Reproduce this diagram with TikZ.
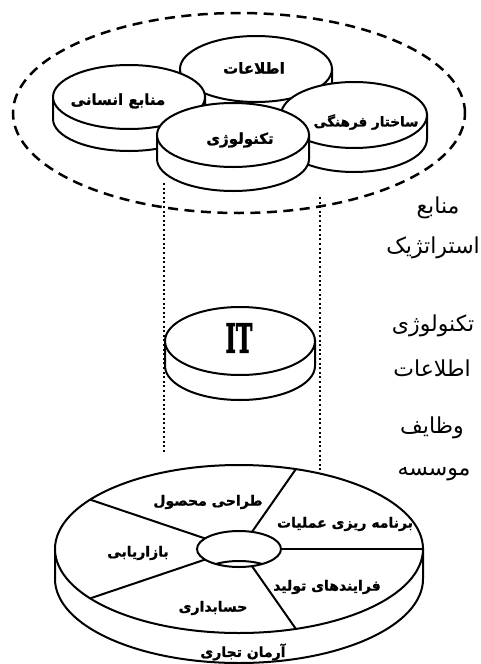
\documentclass[tikz,border=0pt]{standalone}
\usepackage{fontspec}
\setmainfont{DejaVu Sans}
\newfontfamily\fa[Script=Arabic]{DejaVu Sans}
\newfontfamily\fab[Script=Arabic, BoldFeatures={FakeBold=1.2}]{DejaVu Sans}
\newfontfamily\itfont[BoldFeatures={FakeBold=2.5}]{DejaVu Serif}
\usetikzlibrary{calc}
\TeXXeTstate=1

\tikzset{
  outline/.style={draw=black, line width=2pt, fill=white},
  edge/.style={draw=black, line width=2pt},
  ring/.style={draw=black, line width=2.5pt, dash pattern=on 10pt off 6.5pt},
  dotline/.style={draw=black, line width=2.6pt, dash pattern=on 2pt off 2.6pt},
  disklabel/.style={font=\fab\bfseries\fontsize{14}{16}\selectfont, inner sep=0pt},
  toplabel/.style={font=\fab\bfseries\fontsize{15}{17}\selectfont, inner sep=0pt},
  sidelabel/.style={font=\fa\fontsize{22}{26}\selectfont, inner sep=0pt},
}

% a flat cylinder: centre x, centre y, x radius, y radius, thickness
\newcommand\plate[5]{%
  \path[outline] (#1-#3,#2) -- (#1-#3,#2+#5)
    arc[start angle=180, end angle=360, x radius=#3pt, y radius=#4pt]
    -- (#1+#3,#2) -- cycle;
  \path[outline] (#1,#2) ellipse[x radius=#3pt, y radius=#4pt];
}

\begin{document}
\begin{tikzpicture}[x=1pt, y=-1pt]
  \useasboundingbox (0,0) rectangle (481,664);
  \fill[white] (0,0) rectangle (481,664);

  % strategic resources group
  \draw[ring] (239,113) ellipse[x radius=226pt, y radius=100pt];

  \plate{256}{69}{76}{33}{22}
  \plate{129}{97}{76}{32}{22}
  \plate{354}{115}{73}{33}{24}
  \plate{233}{135}{76}{32}{24}

  \node[toplabel] (info)    at (254,68)  {\beginR اطلاعات\endR};
  \node[toplabel] (human)   at (118,101) {\beginR منابع انسانی\endR};
  \node[toplabel, font=\fab\bfseries\fontsize{13.5}{16}\selectfont] (culture) at (366,122) {\beginR ساختار فرهنگی\endR};
  \node[toplabel] (tech)    at (240,140) {\beginR تکنولوژی\endR};

  % vertical guides
  \coordinate (gl1) at (164,183);
  \coordinate (gl2) at (164,452);
  \coordinate (gr1) at (320,197);
  \coordinate (gr2) at (320,472);

  % information technology layer
  \plate{240}{341}{75}{34}{25}
  \node[inner sep=0pt, xscale=0.55, font=\itfont\bfseries\fontsize{40}{40}\selectfont] (it) at (239,338) {IT};

  \draw[dotline] (gl1) -- (gl2);
  \draw[dotline] (gr1) -- (gr2);

  % business functions wheel
  \coordinate (rim) at (239,549);
  \plate{239}{549}{184}{84}{30}
  \foreach \a in {72,0,-72,-144,144}
    \draw[edge] ($(rim)+(\a:42pt and 18pt)$) -- ($(rim)+(\a:184pt and 84pt)$);
  \path[outline] (rim) ellipse[x radius=42pt, y radius=18pt];
  \begin{scope}
    \clip (rim) ellipse[x radius=42pt, y radius=18pt];
    \draw[edge] ($(rim)+(0,30)$) ellipse[x radius=42pt, y radius=18pt];
  \end{scope}

  \node[disklabel] (design)  at (208,502) {\beginR طراحی محصول\endR};
  \node[disklabel] (ops)     at (345,524) {\beginR برنامه ریزی عملیات\endR};
  \node[disklabel] (market)  at (138,553) {\beginR بازاریابی\endR};
  \node[disklabel] (proc)    at (327,587) {\beginR فرایندهای تولید\endR};
  \node[disklabel] (acct)    at (213,608) {\beginR حسابداری\endR};
  \node[disklabel] (mission) at (243,652) {\beginR آرمان تجاری\endR};

  % layer captions
  \node[sidelabel] (s1) at (438,208) {\beginR منابع\endR};
  \node[sidelabel, anchor=east] (s2) at (480,248) {\beginR استراتژیک\endR};
  \node[sidelabel] (s3) at (433,326) {\beginR تکنولوژی\endR};
  \node[sidelabel] (s4) at (432,368) {\beginR اطلاعات\endR};
  \node[sidelabel] (s5) at (432,428) {\beginR وظایف\endR};
  \node[sidelabel] (s6) at (434,474) {\beginR موسسه\endR};
\end{tikzpicture}
\end{document}
